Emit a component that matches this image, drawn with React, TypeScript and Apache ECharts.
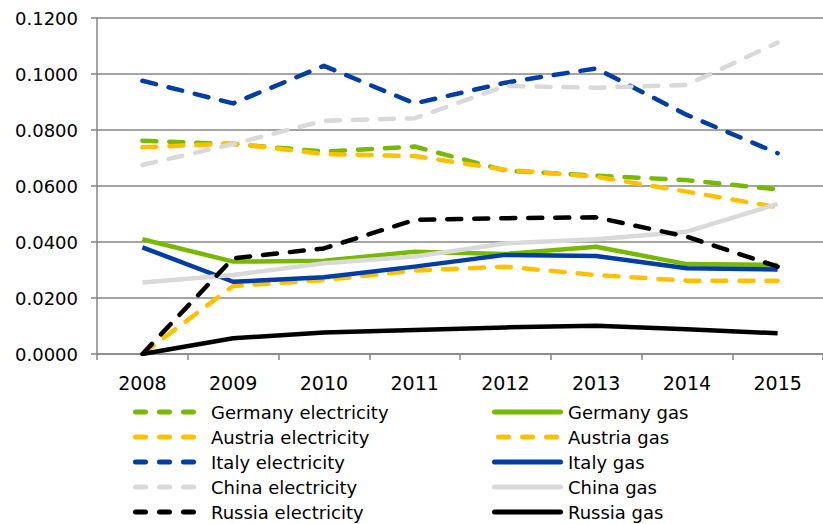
import React, { useEffect, useRef } from "react";
import * as echarts from "echarts";

const years = ["2008", "2009", "2010", "2011", "2012", "2013", "2014", "2015"];
const yTicks = [0, 0.02, 0.04, 0.06, 0.08, 0.1, 0.12];

const germanyElectricity = [0.0762, 0.0750, 0.0723, 0.0741, 0.0655, 0.0637, 0.0621, 0.0588];
const germanyGas = [0.0410, 0.0330, 0.0333, 0.0365, 0.0357, 0.0383, 0.0321, 0.0318];
const austriaElectricity = [0.0738, 0.0752, 0.0714, 0.0707, 0.0658, 0.0633, 0.0580, 0.0524];
const austriaGas = [0.0000, 0.0243, 0.0264, 0.0298, 0.0312, 0.0282, 0.0262, 0.0262];
const italyElectricity = [0.0976, 0.0895, 0.1029, 0.0895, 0.0969, 0.1020, 0.0854, 0.0717];
const italyGas = [0.0381, 0.0258, 0.0274, 0.0312, 0.0354, 0.0350, 0.0306, 0.0302];
const chinaElectricity = [0.0675, 0.0750, 0.0833, 0.0842, 0.0957, 0.0951, 0.0961, 0.1112];
const chinaGas = [0.0255, 0.0282, 0.0324, 0.0348, 0.0395, 0.0410, 0.0437, 0.0536];
const russiaElectricity = [0.0000, 0.0342, 0.0377, 0.0479, 0.0485, 0.0488, 0.0419, 0.0312];
const russiaGas = [0.0000, 0.0056, 0.0077, 0.0086, 0.0095, 0.0101, 0.0088, 0.0074];

const GREEN = "#76B900";
const YELLOW = "#FFC000";
const BLUE = "#003DA5";
const GREY = "#D9D9D9";
const BLACK = "#000000";

const FONT = "DejaVu Sans";

const dash = (x: number) =>
  `M${x + 2.5},0 h10 a2.5,2.5 0 0 1 0,5 h-10 a2.5,2.5 0 0 1 0,-5 z`;
const DASH_ICON = "path://" + dash(0) + " " + dash(24) + " " + dash(48);
const SOLID_ICON = "path://M2.5,0 h66 a2.5,2.5 0 0 1 0,5 h-66 a2.5,2.5 0 0 1 0,-5 z";

type S = { name: string; data: number[]; color: string; dashed: boolean };
const seriesDefs: S[] = [
  { name: "Germany electricity", data: germanyElectricity, color: GREEN, dashed: true },
  { name: "Germany gas", data: germanyGas, color: GREEN, dashed: false },
  { name: "Austria electricity", data: austriaElectricity, color: YELLOW, dashed: true },
  { name: "Austria gas", data: austriaGas, color: YELLOW, dashed: true },
  { name: "Italy electricity", data: italyElectricity, color: BLUE, dashed: true },
  { name: "Italy gas", data: italyGas, color: BLUE, dashed: false },
  { name: "China electricity", data: chinaElectricity, color: GREY, dashed: true },
  { name: "China gas", data: chinaGas, color: GREY, dashed: false },
  { name: "Russia electricity", data: russiaElectricity, color: BLACK, dashed: true },
  { name: "Russia gas", data: russiaGas, color: BLACK, dashed: false },
];

export default function App() {
  const ref = useRef<HTMLDivElement>(null);
  useEffect(() => {
    document.body.style.margin = "0";
    if (!ref.current) return;
    const chart = echarts.init(ref.current, null, { renderer: "svg" });
    const legendCommon = {
      orient: "vertical" as const,
      top: 403,
      height: 121,
      padding: 0,
      itemHeight: 5,
      itemGap: 7,
      selectedMode: false,
      textStyle: { fontFamily: FONT, fontSize: 18, color: "#000", lineHeight: 18 },
    };
    chart.setOption({
      animation: false,
      backgroundColor: "#fff",
      grid: { left: 97, top: 18, right: -6, bottom: 170, containLabel: false },
      legend: [
        {
          ...legendCommon,
          left: 133,
          itemWidth: 63,
          textStyle: { ...legendCommon.textStyle, padding: [0, 0, 0, 10] },
          data: seriesDefs
            .filter((s) => s.name.endsWith("electricity"))
            .map((s) => ({ name: s.name, icon: s.dashed ? DASH_ICON : SOLID_ICON })),
        },
        {
          ...legendCommon,
          left: 492,
          itemWidth: 71,
          textStyle: { ...legendCommon.textStyle, padding: [0, 0, 0, 0] },
          data: seriesDefs
            .filter((s) => s.name.endsWith("gas"))
            .map((s) => ({ name: s.name, icon: s.dashed ? DASH_ICON : SOLID_ICON })),
        },
      ],
      xAxis: {
        type: "category",
        data: years,
        boundaryGap: true,
        axisLine: { lineStyle: { color: "#868686", width: 1.5 } },
        axisTick: { show: true, length: 6, lineStyle: { color: "#868686", width: 1.5 } },
        axisLabel: { fontFamily: FONT, fontSize: 19, color: "#000", margin: 19 },
        splitLine: { show: false },
      },
      yAxis: {
        type: "value",
        min: yTicks[0],
        max: yTicks[yTicks.length - 1],
        interval: 0.02,
        axisLine: { show: true, lineStyle: { color: "#868686", width: 1.5 } },
        axisTick: { show: true, length: 6, lineStyle: { color: "#868686", width: 1.5 } },
        axisLabel: {
          fontFamily: FONT,
          fontSize: 18,
          color: "#000",
          margin: 19,
          formatter: (v: number) => v.toFixed(4),
        },
        splitLine: { show: true, lineStyle: { color: "#868686", width: 1.5 } },
      },
      series: seriesDefs.map((s, i) => ({
        name: s.name,
        type: "line",
        data: s.data,
        symbol: "none",
        z: 2 + i,
        color: s.color,
        itemStyle: { color: s.color },
        lineStyle: {
          color: s.color,
          width: 4.5,
          type: s.dashed ? [14, 13] : "solid",
          cap: s.dashed ? "round" : "butt",
          join: "round",
        },
      })),
    });
    return () => chart.dispose();
  }, []);
  return <div ref={ref} style={{ width: 823, height: 524, position: "absolute", left: 0, top: 0 }} />;
}
